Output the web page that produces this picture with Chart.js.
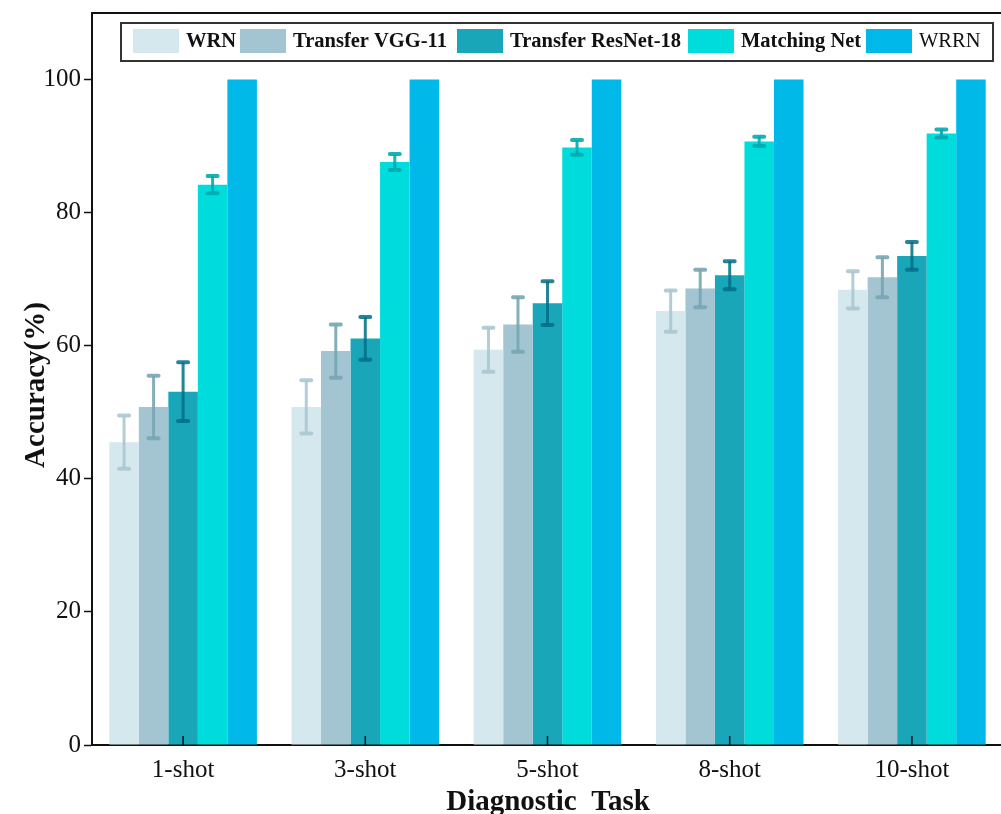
<!DOCTYPE html>
<html>
<head>
<meta charset="utf-8">
<script src="https://cdn.jsdelivr.net/npm/chart.js@4.4.0/dist/chart.umd.min.js"></script>
<style>
  html, body { margin: 0; padding: 0; background: #fff; overflow: hidden; }
  #wrap { width: 1004px; height: 814px; }
</style>
</head>
<body>
<div id="wrap"><canvas id="myChart" width="1004" height="814"></canvas></div>
<script>
// values
var categories = ['1-shot', '3-shot', '5-shot', '8-shot', '10-shot'];
var seriesNames = ['WRN', 'Transfer VGG-11', 'Transfer ResNet-18', 'Matching Net', 'WRRN'];
var wrn = [45.5, 50.8, 59.4, 65.2, 68.4];
var wrnErr = [4.0, 4.0, 3.3, 3.1, 2.8];
var vgg = [50.8, 59.2, 63.2, 68.6, 70.3];
var vggErr = [4.7, 4.0, 4.1, 2.8, 3.0];
var resnet = [53.1, 61.1, 66.4, 70.6, 73.5];
var resnetErr = [4.4, 3.2, 3.3, 2.1, 2.1];
var matching = [84.2, 87.6, 89.8, 90.7, 91.9];
var matchingErr = [1.3, 1.2, 1.1, 0.7, 0.6];
var wrrn = [100, 100, 100, 100, 100];
var yTicks = [0, 20, 40, 60, 80, 100];

var colors = ['#d5e8ee', '#a2c5d1', '#19a6b9', '#00dcdc', '#00b9e8'];
var errColors = ['rgba(170,200,210,0.9)', 'rgba(120,165,180,0.9)', 'rgba(0,110,135,0.85)', 'rgba(0,170,175,0.9)', null];
var serif = '"Liberation Serif", "Times New Roman", serif';

var errorBars = {
  id: 'errorBars',
  afterDatasetsDraw: function(chart) {
    var ctx = chart.ctx;
    var y = chart.scales.y;
    chart.data.datasets.forEach(function(ds, i) {
      if (!ds.errors) return;
      var meta = chart.getDatasetMeta(i);
      meta.data.forEach(function(bar, j) {
        var v = ds.data[j], e = ds.errors[j];
        var yt = y.getPixelForValue(v + e), yb = y.getPixelForValue(v - e);
        ctx.save();
        ctx.strokeStyle = errColors[i];
        ctx.lineWidth = 3;
        ctx.beginPath();
        ctx.moveTo(bar.x, yt); ctx.lineTo(bar.x, yb);
        ctx.stroke();
        ctx.lineWidth = 4;
        ctx.lineCap = 'round';
        ctx.beginPath();
        ctx.moveTo(bar.x - 5, yt); ctx.lineTo(bar.x + 5, yt);
        ctx.moveTo(bar.x - 5, yb); ctx.lineTo(bar.x + 5, yb);
        ctx.stroke();
        ctx.restore();
      });
    });
  }
};

var decor = {
  id: 'decor',
  afterDraw: function(chart) {
    var ctx = chart.ctx, a = chart.chartArea;
    var x = chart.scales.x;
    ctx.save();
    // top frame line
    ctx.strokeStyle = '#111';
    ctx.lineWidth = 2;
    ctx.beginPath();
    ctx.moveTo(a.left, a.top); ctx.lineTo(a.right, a.top);
    ctx.stroke();
    // inward x ticks
    ctx.lineWidth = 1.5;
    categories.forEach(function(c, i) {
      var px = x.getPixelForTick(i);
      ctx.beginPath();
      ctx.moveTo(px, a.bottom); ctx.lineTo(px, a.bottom - 9);
      ctx.stroke();
    });
    // axis titles
    ctx.fillStyle = '#111';
    ctx.font = 'bold 29px ' + serif;
    ctx.textAlign = 'center';
    ctx.textBaseline = 'alphabetic';
    ctx.fillText('Diagnostic  Task', 548, 810);
    ctx.save();
    ctx.translate(44, 385);
    ctx.rotate(-Math.PI / 2);
    ctx.fillText('Accuracy(%)', 0, 0);
    ctx.restore();
    // legend
    var lx = 121, ly = 23, lw = 872, lh = 38;
    ctx.fillStyle = '#fff';
    ctx.fillRect(lx, ly, lw, lh);
    ctx.strokeStyle = '#333';
    ctx.lineWidth = 2;
    ctx.strokeRect(lx, ly, lw, lh);
    var sx = [133, 240, 457, 688, 866];
    chart.data.datasets.forEach(function(ds, i) {
      ctx.fillStyle = ds.backgroundColor;
      ctx.fillRect(sx[i], 29, 46, 24);
      ctx.fillStyle = '#111';
      ctx.font = (i === 4 ? '' : 'bold ') + '20.5px ' + serif;
      ctx.textAlign = 'left';
      ctx.textBaseline = 'middle';
      ctx.fillText(ds.label, sx[i] + 53, 42);
    });
    ctx.restore();
  }
};

var ctx = document.getElementById('myChart');
var myChart = new Chart(ctx, {
  type: 'bar',
  data: {
    labels: categories,
    datasets: [
      { label: seriesNames[0], data: wrn, errors: wrnErr, backgroundColor: colors[0] },
      { label: seriesNames[1], data: vgg, errors: vggErr, backgroundColor: colors[1] },
      { label: seriesNames[2], data: resnet, errors: resnetErr, backgroundColor: colors[2] },
      { label: seriesNames[3], data: matching, errors: matchingErr, backgroundColor: colors[3] },
      { label: seriesNames[4], data: wrrn, backgroundColor: colors[4] }
    ]
  },
  options: {
    responsive: false,
    animation: false,
    events: [],
    layout: { padding: { top: 13, right: 1, left: 0, bottom: 0 } },
    datasets: { bar: { barPercentage: 1.0, categoryPercentage: 0.81, borderWidth: 0 } },
    plugins: { legend: { display: false }, tooltip: { enabled: false } },
    scales: {
      x: {
        afterFit: function(s) { s.height = 69; s.paddingLeft = 0; s.paddingRight = 0; },
        grid: { display: false, drawTicks: false },
        border: { display: true, color: '#111', width: 2 },
        ticks: { color: '#111', padding: 10, font: { family: serif, size: 25 } }
      },
      y: {
        min: 0, max: 110,
        afterFit: function(s) { s.width = 92; s.paddingTop = 0; s.paddingBottom = 0; },
        afterBuildTicks: function(s) { s.ticks = yTicks.map(function(v) { return { value: v }; }); },
        grid: { drawOnChartArea: false, drawTicks: true, tickLength: 8, color: '#111', tickWidth: 1.5 },
        border: { display: true, color: '#111', width: 2 },
        ticks: { color: '#111', padding: 3, font: { family: serif, size: 25 } }
      }
    }
  },
  plugins: [errorBars, decor]
});
</script>
</body>
</html>
